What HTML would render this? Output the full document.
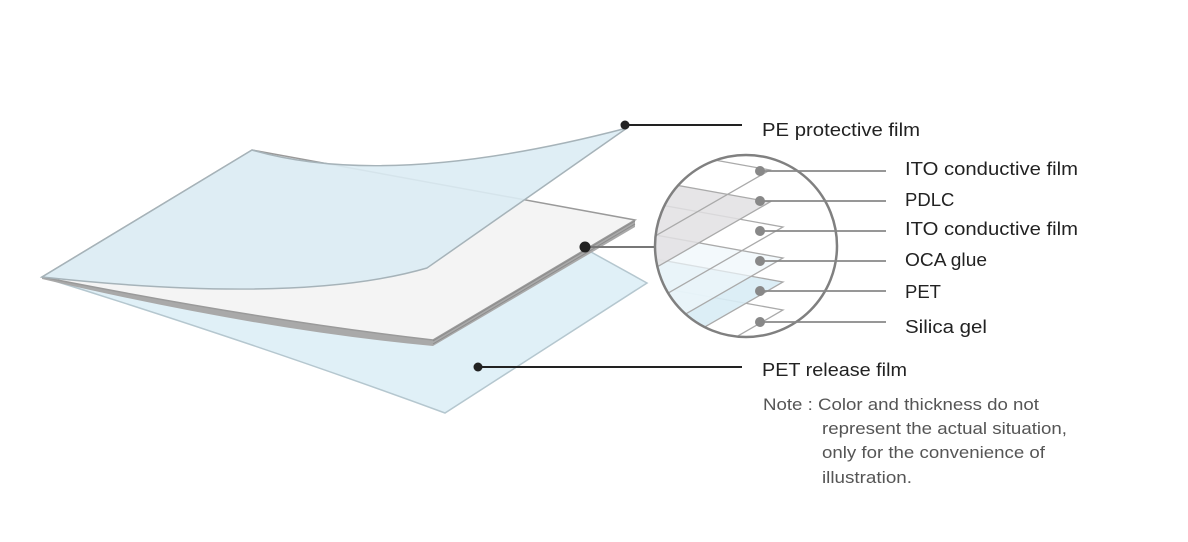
<!DOCTYPE html>
<html><head><meta charset="utf-8"><style>
html,body{margin:0;padding:0;background:#fff;}
svg{display:block;}
text{font-family:"Liberation Sans",sans-serif;}
</style></head><body>
<svg width="1188" height="542" viewBox="0 0 1188 542" xmlns="http://www.w3.org/2000/svg">
<defs>
<clipPath id="cc"><circle cx="746" cy="246" r="91"/></clipPath>
</defs>
<path d="M42,277 Q260,345 445,413 L647,283 L591,252 L560,265 L433,340 Q260,320 42,277 Z" fill="#e0f0f7" stroke="#b5c7cf" stroke-width="1.5"/>
<path d="M42,277 L252,150 L635,220 L635,227 L433,346 Q260,330 42,279 Z" fill="#a9a9a9"/>
<path d="M42,277 L252,150 L635,220 L433,340 Q260,320 42,277 Z" fill="#f4f4f4" stroke="#9a9a9a" stroke-width="1.5"/>
<path d="M635,221 L433,341 M635,224 L433,344" stroke="#8c8c8c" stroke-width="1"/>
<path d="M42,277 L252,150 Q390,190 627,128 L427,268 Q300,305 42,277 Z" fill="#dbecf4" fill-opacity="0.9" stroke="#a6b3b9" stroke-width="1.5"/>
<line x1="625" y1="125" x2="742" y2="125" stroke="#222" stroke-width="2"/>
<circle cx="625" cy="125" r="4.5" fill="#222"/>
<line x1="585" y1="247" x2="655" y2="247" stroke="#777" stroke-width="2"/>
<circle cx="585" cy="247" r="5.5" fill="#222"/>
<line x1="478" y1="367" x2="742" y2="367" stroke="#222" stroke-width="2"/>
<circle cx="478" cy="367" r="4.5" fill="#222"/>
<g clip-path="url(#cc)" stroke="#aaa" stroke-width="1.3">
<path d="M783,310 L583,274 L383,389 L583,425 Z" fill="none"/>
<path d="M783,282 L583,246 L383,361 L583,397 Z" fill="#d8ecf5" fill-opacity="0.9"/>
<path d="M783,258 L583,222 L383,337 L583,373 Z" fill="#eef7fb" fill-opacity="0.7"/>
<path d="M783,227 L583,191 L383,306 L583,342 Z" fill="none"/>
<path d="M770,202 L570,166 L370,281 L570,317 Z" fill="#e2e1e3" fill-opacity="0.85"/>
<path d="M770,170 L570,134 L370,249 L570,285 Z" fill="none"/>
</g>
<circle cx="746" cy="246" r="91" fill="none" stroke="#808080" stroke-width="2.5"/>
<g stroke="#888" stroke-width="1.8">
<line x1="760" y1="171" x2="886" y2="171"/>
<line x1="760" y1="201" x2="886" y2="201"/>
<line x1="760" y1="231" x2="886" y2="231"/>
<line x1="760" y1="261" x2="886" y2="261"/>
<line x1="760" y1="291" x2="886" y2="291"/>
<line x1="760" y1="322" x2="886" y2="322"/>
</g>
<g fill="#888">
<circle cx="760" cy="171" r="5"/><circle cx="760" cy="201" r="5"/><circle cx="760" cy="231" r="5"/>
<circle cx="760" cy="261" r="5"/><circle cx="760" cy="291" r="5"/><circle cx="760" cy="322" r="5"/>
</g>
<g fill="#222" font-size="18.5">
<text x="762" y="136" textLength="158" lengthAdjust="spacingAndGlyphs">PE  protective film</text>
<text x="905" y="175" textLength="173" lengthAdjust="spacingAndGlyphs">ITO  conductive film</text>
<text x="905" y="206">PDLC</text>
<text x="905" y="235" textLength="173" lengthAdjust="spacingAndGlyphs">ITO  conductive film</text>
<text x="905" y="266" textLength="82" lengthAdjust="spacingAndGlyphs">OCA glue</text>
<text x="905" y="298">PET</text>
<text x="905" y="333" textLength="82" lengthAdjust="spacingAndGlyphs">Silica  gel</text>
<text x="762" y="376" textLength="145" lengthAdjust="spacingAndGlyphs">PET  release film</text>
</g>
<g fill="#555" font-size="16.5">
<text x="763" y="410" textLength="276" lengthAdjust="spacingAndGlyphs">Note :  Color and thickness do not</text>
<text x="822" y="434" textLength="245" lengthAdjust="spacingAndGlyphs">represent the actual situation,</text>
<text x="822" y="458" textLength="223" lengthAdjust="spacingAndGlyphs">only for the convenience of</text>
<text x="822" y="483" textLength="90" lengthAdjust="spacingAndGlyphs">illustration.</text>
</g>
</svg>
</body></html>
